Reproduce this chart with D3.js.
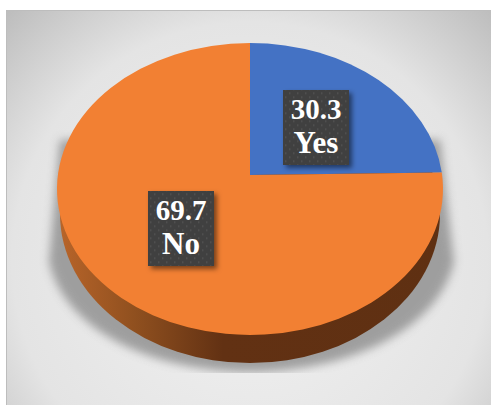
<!DOCTYPE html>
<html>
<head>
<meta charset="utf-8">
<script src="https://cdn.jsdelivr.net/npm/d3@7"></script>
<style>
  html, body { margin: 0; padding: 0; background: #fff; overflow: hidden; }
  svg { display: block; }
</style>
</head>
<body>
<svg id="pie-chart"></svg>
<script>
const categories = ["Yes", "No"];
const labelValues = ["30.3", "69.7"];
// share of the circle each slice actually covers in the picture (it does not follow the printed labels)
const drawnShares = [23.2, 76.8];
const sliceColors = ["#4472c4", "#f28033"];

const width = 491, height = 405;
const topFace = { cx: 250, cy: 189, rx: 193, ry: 146, apexY: -14 / 146 };
const bottomFace = { cx: 250, cy: 214, rx: 190, ry: 149 };
const labelCenters = [[316, 127.5], [181, 228.5]];

const svg = d3.select("#pie-chart").attr("width", width).attr("height", height);
const defs = svg.append("defs");

const bg = defs.append("radialGradient").attr("id", "bg")
  .attr("gradientUnits", "userSpaceOnUse")
  .attr("cx", 250).attr("cy", 260).attr("r", 350);
bg.append("stop").attr("offset", "0%").attr("stop-color", "#f2f2f2");
bg.append("stop").attr("offset", "68%").attr("stop-color", "#e4e4e4");
bg.append("stop").attr("offset", "100%").attr("stop-color", "#bcbcbc");

const wall = defs.append("linearGradient").attr("id", "wall")
  .attr("gradientUnits", "userSpaceOnUse")
  .attr("x1", 57).attr("x2", 443).attr("y1", 0).attr("y2", 0);
wall.append("stop").attr("offset", "0%").attr("stop-color", "#b9652a");
wall.append("stop").attr("offset", "20%").attr("stop-color", "#90501f");
wall.append("stop").attr("offset", "43%").attr("stop-color", "#623113");
wall.append("stop").attr("offset", "100%").attr("stop-color", "#5f3012");

defs.append("filter").attr("id", "soft")
  .attr("x", "-20%").attr("y", "-20%").attr("width", "140%").attr("height", "140%")
  .append("feGaussianBlur").attr("stdDeviation", 5);

const dropShadow = defs.append("filter").attr("id", "boxShadow")
  .attr("x", "-20%").attr("y", "-20%").attr("width", "150%").attr("height", "150%");
dropShadow.append("feDropShadow")
  .attr("dx", 3).attr("dy", 3).attr("stdDeviation", 2.5)
  .attr("flood-color", "#000").attr("flood-opacity", 0.5);

const dots = defs.append("pattern").attr("id", "dots")
  .attr("patternUnits", "userSpaceOnUse").attr("width", 8).attr("height", 8);
dots.append("rect").attr("width", 8).attr("height", 8).attr("fill", "#404040");
dots.append("rect").attr("x", 1).attr("y", 1).attr("width", 1.4).attr("height", 1.4).attr("fill", "#565656");
dots.append("rect").attr("x", 5).attr("y", 5).attr("width", 1.4).attr("height", 1.4).attr("fill", "#565656");

defs.append("clipPath").attr("id", "shadowClip")
  .append("rect").attr("x", 6).attr("y", 10).attr("width", 485).attr("height", 363);

// background panel
svg.append("rect").attr("x", 6).attr("y", 10).attr("width", 485).attr("height", 395)
  .attr("fill", "url(#bg)");
svg.append("path").attr("d", "M6.5,405V10.5H491").attr("fill", "none").attr("stroke", "#bdbdbd");

// shadow on the floor
svg.append("g").attr("clip-path", "url(#shadowClip)")
  .append("path")
  .attr("d", "M60,140 L49,262 C66,335 160,372 250,372 C340,372 436,335 454,262 L440,140 Z")
  .attr("fill", "#8c8c8c")
  .attr("opacity", 0.8)
  .attr("filter", "url(#soft)");

// side wall
const chart = svg.append("g");
chart.append("ellipse")
  .attr("cx", bottomFace.cx).attr("cy", bottomFace.cy).attr("rx", bottomFace.rx).attr("ry", bottomFace.ry)
  .attr("fill", "url(#wall)");

// slices, drawn in a unit circle that is then squashed to the tilted top
const pie = d3.pie().sort(null).value(d => d);
const arcs = pie(drawnShares);

function slicePath(d) {
  const p = d3.path();
  const a0 = d.startAngle - Math.PI / 2, a1 = d.endAngle - Math.PI / 2;
  p.moveTo(0, topFace.apexY);
  p.lineTo(Math.cos(a0), Math.sin(a0));
  p.arc(0, 0, 1, a0, a1);
  p.closePath();
  return p.toString();
}

chart.append("g")
  .attr("transform", `translate(${topFace.cx},${topFace.cy}) scale(${topFace.rx},${topFace.ry})`)
  .selectAll("path")
  .data(arcs)
  .enter()
  .append("path")
    .attr("d", slicePath)
    .attr("fill", (d, i) => sliceColors[i]);

// data labels
const labels = svg.selectAll("g.label")
  .data(categories)
  .enter()
  .append("g")
    .attr("class", "label")
    .attr("transform", (d, i) => `translate(${labelCenters[i][0]},${labelCenters[i][1]})`);

labels.append("rect")
  .attr("x", -33).attr("y", -37.5).attr("width", 66).attr("height", 75)
  .attr("fill", "url(#dots)")
  .attr("filter", "url(#boxShadow)");

labels.append("text")
  .attr("text-anchor", "middle")
  .attr("y", -9)
  .attr("font-family", "'Liberation Serif', serif")
  .attr("font-weight", "bold")
  .attr("font-size", 29)
  .attr("fill", "#fff")
  .text((d, i) => labelValues[i]);

labels.append("text")
  .attr("text-anchor", "middle")
  .attr("y", 25)
  .attr("font-family", "'Liberation Serif', serif")
  .attr("font-weight", "bold")
  .attr("font-size", 31)
  .attr("fill", "#fff")
  .text(d => d);
</script>
</body>
</html>
